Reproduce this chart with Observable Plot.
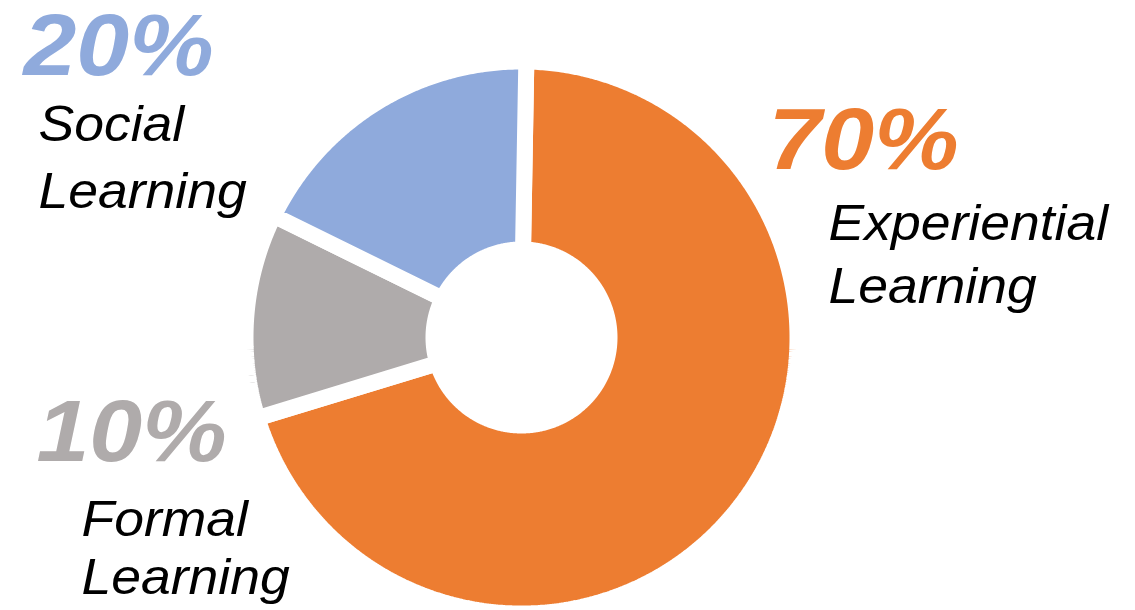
<!DOCTYPE html>
<html>
<head>
<meta charset="utf-8">
<script src="https://cdn.jsdelivr.net/npm/d3@7"></script>
<script src="https://cdn.jsdelivr.net/npm/@observablehq/plot@0.6"></script>
<style>
  html, body { margin: 0; padding: 0; background: #fff; }
  #chart svg { display: block; font-family: "Liberation Sans", Arial, sans-serif; }
</style>
</head>
<body>
<div id="chart"></div>
<script>
// ---- data ----
const categories = ["Experiential Learning", "Formal Learning", "Social Learning"];
const shares = [70, 12, 18];                 // angular share of each slice as drawn
const percentLabels = ["70%", "10%", "20%"]; // printed labels
const nameLabels = ["Experiential\nLearning", "Formal\nLearning", "Social\nLearning"];
const colors = ["#ED7D31", "#AFABAB", "#8FAADC"];

// ---- layout ----
const W = 1135, H = 610;
const cx = 521, cy = 337;        // donut centre in pixels
const R = 276, r = 88;           // path radii (white stroke trims 8px each side)
const gap = 16;
const startDeg = 1;
const PCT_SIZE = 88, NAME_SIZE = 50;

const pie = d3.pie().sort(null).startAngle(startDeg * Math.PI / 180)
  .endAngle(startDeg * Math.PI / 180 + 2 * Math.PI);
const arcs = pie(shares);

// build polygon outlines from the pie angles
const pts = [];
arcs.forEach((a, i) => {
  const cat = categories[i];
  const a0 = a.startAngle, a1 = a.endAngle, mid = (a0 + a1) / 2;
  const step = Math.PI / 360;
  const push = (rad, t) => pts.push({category: cat, x: rad * Math.sin(t), y: rad * Math.cos(t)});
  for (let t = mid; t < a1; t += step) push(R, t);
  push(R, a1);
  for (let t = a1; t > a0; t -= step) push(r, t);
  push(r, a0);
  for (let t = a0; t < mid; t += step) push(R, t);
  push(R, mid);
});

const idx = Object.fromEntries(categories.map((c, i) => [c, i]));
const textBase = {fontFamily: "Liberation Sans, Arial, sans-serif", fontStyle: "italic", frameAnchor: "top-left", lineAnchor: "top", textAnchor: "start"};

// label placements (pixel offsets)
const pctPos = {
  "Experiential Learning": [768, 106],
  "Formal Learning": [36, 398],
  "Social Learning": [23, 12]
};
const namePos = {
  "Experiential Learning": [828, 194.5, 1.26],
  "Formal Learning": [81, 494.5, 1.16],
  "Social Learning": [38, 92.5, 1.34]
};

const marks = [
  Plot.line(pts, {x: "x", y: "y", z: "category", fill: "category", stroke: "white", strokeWidth: gap, curve: "linear", strokeLinejoin: "miter"})
];
categories.forEach((c, i) => {
  marks.push(Plot.text([c], {
    ...textBase, text: d => percentLabels[idx[d]], fill: colors[i], fontWeight: "bold", fontSize: PCT_SIZE,
    dx: pctPos[c][0], dy: pctPos[c][1]
  }));
  marks.push(Plot.text([c], {
    ...textBase, text: d => nameLabels[idx[d]], fill: "black", fontWeight: "normal", fontSize: NAME_SIZE,
    lineHeight: namePos[c][2], dx: namePos[c][0], dy: namePos[c][1]
  }));
});

const chart = Plot.plot({
  width: W, height: H,
  marginTop: 0, marginRight: 0, marginBottom: 0, marginLeft: 0,
  x: {domain: [-cx, W - cx], axis: null},
  y: {domain: [-(H - cy), cy], axis: null},
  color: {domain: categories, range: colors},
  style: {background: "white", overflow: "visible"},
  marks
});
document.getElementById("chart").append(chart);

// widen the glyphs slightly to match the reference typeface
function widen(sel, k) {
  chart.querySelectorAll(sel).forEach(t => {
    const parts = t.querySelectorAll("tspan");
    const list = parts.length ? Array.from(parts) : [t];
    list.forEach(el => {
      const len = el.getComputedTextLength();
      el.setAttribute("textLength", (len * k).toFixed(1));
      el.setAttribute("lengthAdjust", "spacingAndGlyphs");
    });
  });
}
widen(`g[font-size="${PCT_SIZE}"] text`, 1.08);
widen(`g[font-size="${NAME_SIZE}"] text`, 1.07);
</script>
</body>
</html>
